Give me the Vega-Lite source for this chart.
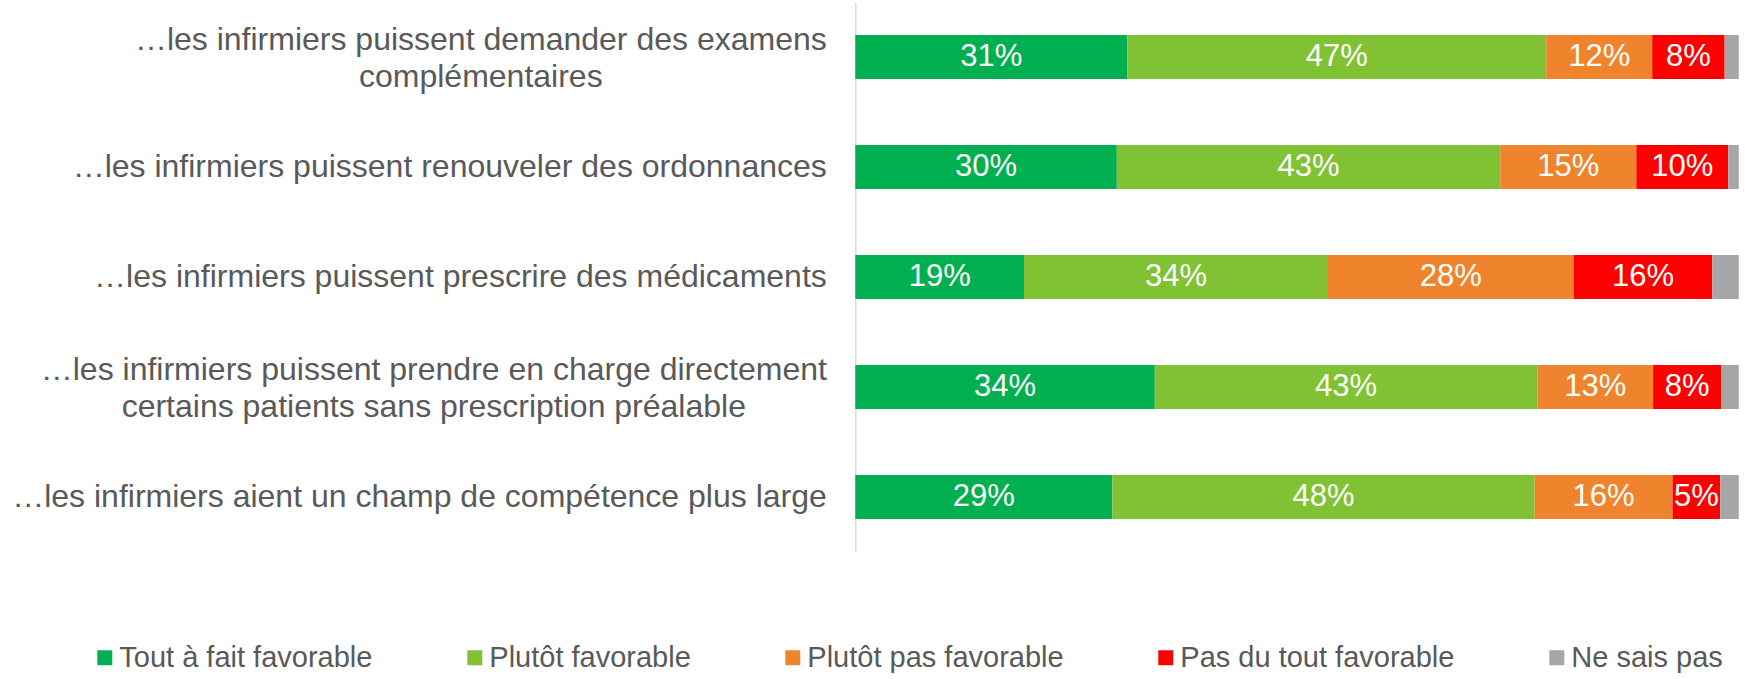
{
  "$schema": "https://vega.github.io/schema/vega-lite/v6.json",
  "autosize": {"type": "none"},
  "width": 883.5,
  "height": 550,
  "padding": {"left": 855.3, "top": 2, "right": 6.2, "bottom": 127},
  "background": "white",
  "config": {"view": {"stroke": null}, "font": "Liberation Sans"},
  "data": {
    "values": [
      {"question": "…les infirmiers puissent demander des examens\ncomplémentaires", "reponse": "Tout à fait favorable", "rang": 1, "valeur": 30.8, "label": "31%"},
      {"question": "…les infirmiers puissent demander des examens\ncomplémentaires", "reponse": "Plutôt favorable", "rang": 2, "valeur": 47.4, "label": "47%"},
      {"question": "…les infirmiers puissent demander des examens\ncomplémentaires", "reponse": "Plutôt pas favorable", "rang": 3, "valeur": 12.0, "label": "12%"},
      {"question": "…les infirmiers puissent demander des examens\ncomplémentaires", "reponse": "Pas du tout favorable", "rang": 4, "valeur": 8.2, "label": "8%"},
      {"question": "…les infirmiers puissent demander des examens\ncomplémentaires", "reponse": "Ne sais pas", "rang": 5, "valeur": 1.6, "label": ""},
      {"question": "…les infirmiers puissent renouveler des ordonnances", "reponse": "Tout à fait favorable", "rang": 1, "valeur": 29.6, "label": "30%"},
      {"question": "…les infirmiers puissent renouveler des ordonnances", "reponse": "Plutôt favorable", "rang": 2, "valeur": 43.4, "label": "43%"},
      {"question": "…les infirmiers puissent renouveler des ordonnances", "reponse": "Plutôt pas favorable", "rang": 3, "valeur": 15.4, "label": "15%"},
      {"question": "…les infirmiers puissent renouveler des ordonnances", "reponse": "Pas du tout favorable", "rang": 4, "valeur": 10.4, "label": "10%"},
      {"question": "…les infirmiers puissent renouveler des ordonnances", "reponse": "Ne sais pas", "rang": 5, "valeur": 1.2, "label": ""},
      {"question": "…les infirmiers puissent prescrire des médicaments", "reponse": "Tout à fait favorable", "rang": 1, "valeur": 19.1, "label": "19%"},
      {"question": "…les infirmiers puissent prescrire des médicaments", "reponse": "Plutôt favorable", "rang": 2, "valeur": 34.4, "label": "34%"},
      {"question": "…les infirmiers puissent prescrire des médicaments", "reponse": "Plutôt pas favorable", "rang": 3, "valeur": 27.8, "label": "28%"},
      {"question": "…les infirmiers puissent prescrire des médicaments", "reponse": "Pas du tout favorable", "rang": 4, "valeur": 15.7, "label": "16%"},
      {"question": "…les infirmiers puissent prescrire des médicaments", "reponse": "Ne sais pas", "rang": 5, "valeur": 3.0, "label": ""},
      {"question": "…les infirmiers puissent prendre en charge directement\ncertains patients sans prescription préalable", "reponse": "Tout à fait favorable", "rang": 1, "valeur": 33.9, "label": "34%"},
      {"question": "…les infirmiers puissent prendre en charge directement\ncertains patients sans prescription préalable", "reponse": "Plutôt favorable", "rang": 2, "valeur": 43.3, "label": "43%"},
      {"question": "…les infirmiers puissent prendre en charge directement\ncertains patients sans prescription préalable", "reponse": "Plutôt pas favorable", "rang": 3, "valeur": 13.1, "label": "13%"},
      {"question": "…les infirmiers puissent prendre en charge directement\ncertains patients sans prescription préalable", "reponse": "Pas du tout favorable", "rang": 4, "valeur": 7.7, "label": "8%"},
      {"question": "…les infirmiers puissent prendre en charge directement\ncertains patients sans prescription préalable", "reponse": "Ne sais pas", "rang": 5, "valeur": 2.0, "label": ""},
      {"question": "…les infirmiers aient un champ de compétence plus large", "reponse": "Tout à fait favorable", "rang": 1, "valeur": 29.1, "label": "29%"},
      {"question": "…les infirmiers aient un champ de compétence plus large", "reponse": "Plutôt favorable", "rang": 2, "valeur": 47.8, "label": "48%"},
      {"question": "…les infirmiers aient un champ de compétence plus large", "reponse": "Plutôt pas favorable", "rang": 3, "valeur": 15.6, "label": "16%"},
      {"question": "…les infirmiers aient un champ de compétence plus large", "reponse": "Pas du tout favorable", "rang": 4, "valeur": 5.4, "label": "5%"},
      {"question": "…les infirmiers aient un champ de compétence plus large", "reponse": "Ne sais pas", "rang": 5, "valeur": 2.1, "label": ""}
    ]
  },
  "encoding": {
    "y": {
      "field": "question",
      "type": "nominal",
      "sort": null,
      "scale": {"paddingInner": 0.6, "paddingOuter": 0.3},
      "axis": {
        "title": null,
        "domainColor": "#d9d9d9",
        "domainWidth": 1.5,
        "ticks": false,
        "tickSize": 0,
        "labelFont": "Liberation Sans",
        "labelFontSize": 32,
        "labelColor": "#595959",
        "labelLimit": 0,
        "labelLineHeight": 37,
        "labelExpr": "split(datum.label, '\\n')",
        "labelAlign": {"condition": {"test": "indexof(datum.value, '\\n') >= 0", "value": "center"}, "value": "right"},
        "labelOffset": {"condition": {"test": "indexof(datum.value, '\\n') >= 0", "value": -17}, "value": 0},
        "labelPadding": {"condition": [
          {"test": "indexof(datum.value, 'examens') >= 0", "value": 375},
          {"test": "indexof(datum.value, 'directement') >= 0", "value": 422}
        ], "value": 29}
      }
    },
    "x": {
      "field": "valeur",
      "type": "quantitative",
      "stack": "zero",
      "scale": {"domain": [0, 100], "nice": false},
      "axis": null
    },
    "order": {"field": "rang", "type": "quantitative"}
  },
  "layer": [
    {
      "mark": {"type": "bar"},
      "encoding": {
        "color": {
          "field": "reponse",
          "type": "nominal",
          "scale": {
            "domain": ["Tout à fait favorable", "Plutôt favorable", "Plutôt pas favorable", "Pas du tout favorable", "Ne sais pas"],
            "range": ["#00B050", "#80C234", "#F0842C", "#FF0000", "#A6A6A6"]
          },
          "legend": {
            "orient": "none",
            "direction": "horizontal",
            "columns": 5,
            "legendX": -765,
            "legendY": 641,
            "title": null,
            "padding": 0,
            "symbolType": "square",
            "symbolSize": 225,
            "symbolStrokeWidth": 0,
            "symbolOpacity": 1,
            "labelFont": "Liberation Sans",
            "labelFontSize": 29,
            "labelColor": "#595959",
            "labelOffset": 0,
            "labelLimit": 0,
            "columnPadding": 87
          }
        }
      }
    },
    {
      "mark": {"type": "text", "color": "white", "fontSize": 31, "font": "Liberation Sans", "baseline": "middle", "align": "center"},
      "encoding": {
        "x": {"field": "valeur", "type": "quantitative", "stack": "zero", "bandPosition": 0.5},
        "text": {"field": "label"}
      }
    }
  ]
}
